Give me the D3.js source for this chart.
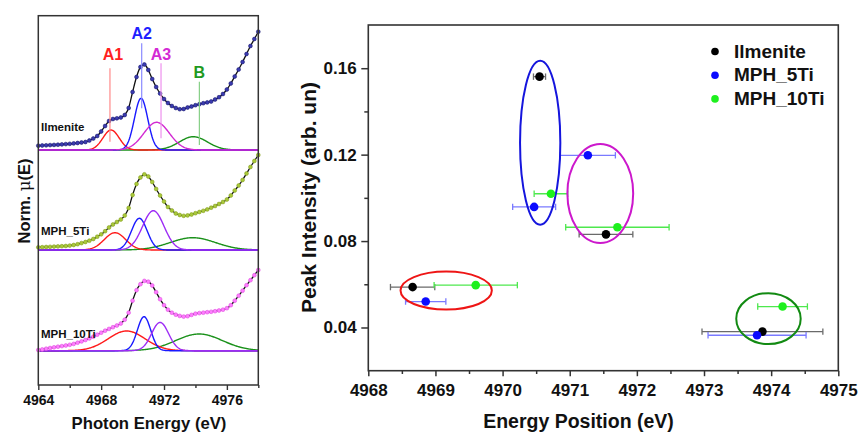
<!DOCTYPE html>
<html><head><meta charset="utf-8">
<script src="https://cdn.jsdelivr.net/npm/d3@7"></script>
<style>
html,body{margin:0;padding:0;background:#fff;}
svg{display:block;font-family:"Liberation Sans",Arial,sans-serif;}
</style></head><body>
<svg id="c" width="858" height="433"></svg>
<script>
// ---------- LEFT PANEL DATA (XANES spectra, arbitrary units) ----------
const photonEnergy = [4964.00,4964.25,4964.50,4964.75,4965.00,4965.25,4965.50,4965.75,
  4966.00,4966.25,4966.50,4966.75,4967.00,4967.25,4967.50,4967.75,
  4968.00,4968.25,4968.50,4968.75,4969.00,4969.25,4969.50,4969.75,
  4970.00,4970.25,4970.50,4970.75,4971.00,4971.25,4971.50,4971.75,
  4972.00,4972.25,4972.50,4972.75,4973.00,4973.25,4973.50,4973.75,
  4974.00,4974.25,4974.50,4974.75,4975.00,4975.25,4975.50,4975.75,
  4976.00,4976.25,4976.50,4976.75,4977.00,4977.25,4977.50,4977.75,4978.00];
const ilmeniteMu = [4.3,4.5,4.7,4.9,5.1,5.3,5.6,5.9,6.2,6.6,7.0,7.5,8.0,9.5,11.5,14.0,
  18.5,24.0,29.0,31.0,31.7,32.5,35.0,42.0,58.0,73.0,83.0,85.5,80.0,71.0,63.0,56.5,
  51.0,47.0,44.0,42.0,40.8,41.0,42.5,43.5,44.8,45.8,46.8,47.6,48.5,50.5,52.8,56.0,
  60.5,66.5,73.5,80.5,88.0,96.0,104.0,111.0,118.3];
const mph5Mu = [2.7,2.8,3.0,3.2,3.4,3.6,3.8,4.0,4.4,5.0,5.8,6.9,8.0,9.3,11.0,13.3,
  15.7,18.8,22.5,25.5,28.0,30.5,34.5,42.0,55.0,66.0,72.5,75.7,73.5,68.0,61.0,54.5,
  48.5,43.0,39.5,36.5,35.0,34.2,34.6,35.5,36.8,38.0,39.2,40.6,42.3,44.0,46.0,48.0,
  50.5,54.5,59.5,64.5,70.0,76.5,83.0,89.0,95.0];
const mph10Mu = [0.7,1.3,2.0,2.7,3.4,4.0,4.6,5.2,5.9,6.8,8.0,9.3,10.7,12.3,14.0,16.0,
  18.0,20.0,21.8,23.5,25.2,27.2,31.0,38.0,50.0,60.5,66.5,69.8,69.0,65.2,58.5,51.5,
  45.5,41.0,38.0,36.0,34.8,34.1,34.5,35.8,37.0,37.6,38.0,38.5,38.9,39.5,40.2,41.0,
  42.5,45.5,50.0,55.0,60.0,65.5,70.5,75.5,80.7];
const sampleNames = ["Ilmenite","MPH_5Ti","MPH_10Ti"];
const sampleOffsets = [235, 135, 34.3];
const peakNames = ["A1","A2","A3","B"];
// Gaussian fit components: centre (eV), height, FWHM (eV)
const ilmeniteFitCentre = [4968.63, 4970.54, 4971.53, 4973.87];
const ilmeniteFitHeight = [20.0, 51.7, 27.7, 13.3];
const ilmeniteFitFwhm   = [1.21, 1.00, 1.91, 2.10];
const mph5FitCentre = [4968.88, 4970.43, 4971.32, 4973.83];
const mph5FitHeight = [17.3, 31.7, 39.3, 12.3];
const mph5FitFwhm   = [1.60, 1.17, 1.60, 3.40];
const mph10FitCentre = [4969.62, 4970.73, 4971.75, 4974.23];
const mph10FitHeight = [19.7, 34.0, 28.3, 16.7];
const mph10FitFwhm   = [2.76, 1.00, 1.27, 3.50];
const peakMarkerEnergy = [4968.56, 4970.58, 4971.81, 4974.25];
const leftTicksMajor = [4964, 4968, 4972, 4976];
const leftTicksMinor = [4966, 4970, 4974, 4978];

// ---------- RIGHT PANEL DATA ----------
const seriesNames = ["Ilmenite","MPH_5Ti","MPH_10Ti"];
const ilmeniteE   = [4968.66, 4970.55, 4971.54, 4973.87];
const ilmeniteI   = [0.0587, 0.1561, 0.0831, 0.0381];
const ilmeniteErr = [0.33, 0.09, 0.40, 0.90];
const mph5E   = [4968.855, 4970.47, 4971.27, 4973.79];
const mph5I   = [0.0520, 0.0958, 0.1197, 0.0364];
const mph5Err = [0.30, 0.32, 0.41, 0.73];
const mph10E   = [4969.60, 4970.72, 4971.71, 4974.17];
const mph10I   = [0.0596, 0.1019, 0.0864, 0.0497];
const mph10Err = [0.62, 0.25, 0.77, 0.37];
// grouping ellipses: centre E, centre I, half-width (eV), half-height
const groupCx = [4969.16, 4970.56, 4971.455, 4973.96];
const groupCy = [0.0571, 0.1255, 0.1020, 0.0441];
const groupRx = [0.68, 0.30, 0.49, 0.48];
const groupRy = [0.0088, 0.0379, 0.0229, 0.0118];
const rightXTicks = [4968,4969,4970,4971,4972,4973,4974,4975];
const rightXMinor = [4968.5,4969.5,4970.5,4971.5,4972.5,4973.5,4974.5];
const rightYTicks = [0.04, 0.08, 0.12, 0.16];
const rightYMinor = [0.06, 0.10, 0.14];

// ---------- DRAW ----------
const svg = d3.select("#c");
const FONT = '"Liberation Sans",Arial,sans-serif';

// ===== Left panel =====
const xL = d3.scaleLinear().domain([4964, 4978]).range([38.3, 258.3]);
const yL = d3.scaleLinear().domain([0, 369.3]).range([385, 15.7]);
const L = svg.append("g");

const spectra = [ilmeniteMu, mph5Mu, mph10Mu];
const fits = [
  [ilmeniteFitCentre, ilmeniteFitHeight, ilmeniteFitFwhm],
  [mph5FitCentre, mph5FitHeight, mph5FitFwhm],
  [mph10FitCentre, mph10FitHeight, mph10FitFwhm]
];
const compColors = [
  ["#ff1a1a", "#1a1aff", "#d22ad2", "#1a911a"],
  ["#ff1a1a", "#1a1aff", "#9d2cf5", "#1a911a"],
  ["#ff1a1a", "#1a1aff", "#9d2cf5", "#1a911a"]
];
const dotFill = ["#3b3bb0", "#a9c93a", "#ff7cff"];
const dotStroke = ["#1a1a70", "#86a020", "#e050e0"];
const fineE = d3.range(4964, 4978.0001, 0.04);
const gauss = (E, c, h, w) => h * Math.exp(-4 * Math.LN2 * (E - c) * (E - c) / (w * w));

spectra.forEach((mu, s) => {
  const off = sampleOffsets[s];
  const [cs, hs, ws] = fits[s];
  // component order: B, A1, A2, A3 (A3 on top of baseline)
  [3, 0, 1, 2].forEach(k => {
    const line = d3.line()
      .x(e => xL(e))
      .y(e => yL(off + gauss(e, cs[k], hs[k], ws[k])));
    L.append("path").attr("d", line(fineE))
      .attr("fill", "none").attr("stroke", compColors[s][k]).attr("stroke-width", 1.4);
  });
  const pts = photonEnergy.map((e, i) => [e, mu[i]]);
  const ln = d3.line().x(d => xL(d[0])).y(d => yL(off + d[1])).curve(d3.curveMonotoneX);
  L.append("path").attr("d", ln(pts)).attr("fill", "none")
    .attr("stroke", "#111").attr("stroke-width", 1.3);
  L.append("g").selectAll("circle").data(pts).join("circle")
    .attr("cx", d => xL(d[0])).attr("cy", d => yL(off + d[1])).attr("r", 1.9)
    .attr("fill", dotFill[s]).attr("stroke", dotStroke[s]).attr("stroke-width", 0.6);
});

// peak annotation lines & labels (Ilmenite)
const markerLineColor = ["#ff8a8a", "#8a8aff", "#ee90ee", "#86cf86"];
const markerLabelColor = ["#ff1f1f", "#1f1fff", "#d42ad4", "#1f9a1f"];
const markerTop = [68.3, 43.3, 63.3, 81.7];
const markerBottom = [141.7, 108.3, 138.3, 145];
const labelBase = [60, 39.3, 60, 78.3];
peakNames.forEach((p, k) => {
  const x = xL(peakMarkerEnergy[k]);
  L.append("line").attr("x1", x).attr("x2", x).attr("y1", markerTop[k]).attr("y2", markerBottom[k])
    .attr("stroke", markerLineColor[k]).attr("stroke-width", 1.2);
  L.append("text").attr("x", x + (k === 0 ? 3 : 0)).attr("y", labelBase[k])
    .attr("text-anchor", "middle").attr("font-size", 16).attr("font-weight", "bold")
    .attr("fill", markerLabelColor[k]).text(p);
});

// sample labels
const sampleLabelY = [130.5, 235, 337.5];
sampleNames.forEach((n, s) => {
  L.append("text").attr("x", 41).attr("y", sampleLabelY[s])
    .attr("font-size", 11.5).attr("font-weight", "bold").attr("fill", "#111").text(n);
});

// left frame
L.append("rect").attr("x", 38.3).attr("y", 15.7).attr("width", 220).attr("height", 369.3)
  .attr("fill", "none").attr("stroke", "#333").attr("stroke-width", 1.5);

const axL = L.append("g").attr("transform", "translate(0,385)")
  .call(d3.axisBottom(xL).tickValues(leftTicksMajor).tickSize(5).tickFormat(d3.format("d")));
axL.select(".domain").remove();
axL.selectAll("line").attr("stroke", "#333").attr("stroke-width", 1.4);
axL.selectAll("text").attr("y", 10).attr("font-size", 14).attr("font-weight", "bold")
  .attr("font-family", FONT).attr("fill", "#111");
const axLm = L.append("g").attr("transform", "translate(0,385)")
  .call(d3.axisBottom(xL).tickValues(leftTicksMinor).tickSize(3).tickFormat(""));
axLm.select(".domain").remove();
axLm.selectAll("line").attr("stroke", "#333").attr("stroke-width", 1.4);

L.append("text").attr("x", 149).attr("y", 429).attr("text-anchor", "middle")
  .attr("font-size", 16.7).attr("font-weight", "bold").attr("fill", "#111").text("Photon Energy (eV)");
const yt = L.append("text").attr("transform", "translate(29.5,201) rotate(-90)")
  .attr("text-anchor", "middle").attr("font-size", 16.5).attr("font-weight", "bold").attr("fill", "#111");
yt.append("tspan").text("Norm. ");
yt.append("tspan").attr("font-weight", "normal").attr("font-family", "DejaVu Serif, serif").text("\u03bc");
yt.append("tspan").text("(E)");

// ===== Right panel =====
const xR = d3.scaleLinear().domain([4968, 4975]).range([368.3, 838.3]);
const yR = d3.scaleLinear().domain([0.02, 0.18]).range([370.7, 25]);
const R = svg.append("g");

const series = [
  {E: ilmeniteE, I: ilmeniteI, err: ilmeniteErr, color: "#000000", errColor: "#6a6a6a"},
  {E: mph5E, I: mph5I, err: mph5Err, color: "#0a0aff", errColor: "#7a7aff"},
  {E: mph10E, I: mph10I, err: mph10Err, color: "#1ef01e", errColor: "#4ee84e"}
];

// error bars
series.forEach(s => {
  const g = R.append("g").attr("stroke", s.errColor).attr("stroke-width", 1.3);
  s.E.forEach((e, i) => {
    const y = yR(s.I[i]), x0 = xR(e - s.err[i]), x1 = xR(e + s.err[i]);
    g.append("line").attr("x1", x0).attr("x2", x1).attr("y1", y).attr("y2", y);
    g.append("line").attr("x1", x0).attr("x2", x0).attr("y1", y - 3.2).attr("y2", y + 3.2);
    g.append("line").attr("x1", x1).attr("x2", x1).attr("y1", y - 3.2).attr("y2", y + 3.2);
  });
});

// ellipses
const ellColors = ["#ee1515", "#1515dd", "#cc18cc", "#128a12"];
groupCx.forEach((cx, k) => {
  R.append("ellipse")
    .attr("cx", xR(cx)).attr("cy", yR(groupCy[k]))
    .attr("rx", xR(cx + groupRx[k]) - xR(cx))
    .attr("ry", yR(groupCy[k] - groupRy[k]) - yR(groupCy[k]))
    .attr("fill", "none").attr("stroke", ellColors[k]).attr("stroke-width", 2);
});

// points
series.forEach(s => {
  R.append("g").selectAll("circle").data(s.E.map((e, i) => [e, s.I[i]])).join("circle")
    .attr("cx", d => xR(d[0])).attr("cy", d => yR(d[1])).attr("r", 4.3).attr("fill", s.color);
});

// frame
R.append("rect").attr("x", 368.3).attr("y", 25).attr("width", 470).attr("height", 345.7)
  .attr("fill", "none").attr("stroke", "#333").attr("stroke-width", 1.6);

const axRx = R.append("g").attr("transform", "translate(0,370.7)")
  .call(d3.axisBottom(xR).tickValues(rightXTicks).tickSize(5.5).tickFormat(d3.format("d")));
axRx.select(".domain").remove();
axRx.selectAll("line").attr("stroke", "#333").attr("stroke-width", 1.5);
axRx.selectAll("text").attr("y", 13.5).attr("font-size", 17).attr("font-weight", "bold")
  .attr("font-family", FONT).attr("fill", "#111");
const axRxm = R.append("g").attr("transform", "translate(0,370.7)")
  .call(d3.axisBottom(xR).tickValues(rightXMinor).tickSize(3.3).tickFormat(""));
axRxm.select(".domain").remove();
axRxm.selectAll("line").attr("stroke", "#333").attr("stroke-width", 1.5);

const axRy = R.append("g").attr("transform", "translate(368.3,0)")
  .call(d3.axisLeft(yR).tickValues(rightYTicks).tickSize(7).tickFormat(d3.format(".2f")));
axRy.select(".domain").remove();
axRy.selectAll("line").attr("stroke", "#333").attr("stroke-width", 1.5);
axRy.selectAll("text").attr("x", -11.6).attr("font-size", 17).attr("font-weight", "bold")
  .attr("font-family", FONT).attr("fill", "#111");
const axRym = R.append("g").attr("transform", "translate(368.3,0)")
  .call(d3.axisLeft(yR).tickValues(rightYMinor).tickSize(4).tickFormat(""));
axRym.select(".domain").remove();
axRym.selectAll("line").attr("stroke", "#333").attr("stroke-width", 1.5);

R.append("text").attr("x", 578.5).attr("y", 428.3).attr("text-anchor", "middle")
  .attr("font-size", 19.5).attr("font-weight", "bold").attr("fill", "#111").text("Energy Position (eV)");
R.append("text").attr("transform", "translate(316,197.5) rotate(-90)").attr("text-anchor", "middle")
  .attr("font-size", 21).attr("font-weight", "bold").attr("fill", "#111").text("Peak Intensity (arb. un)");

// legend
const legY = [57.7, 81.4, 105.1];
seriesNames.forEach((n, i) => {
  R.append("circle").attr("cx", 715).attr("cy", legY[i] - 6.2).attr("r", 3.8).attr("fill", series[i].color);
  R.append("text").attr("x", 734).attr("y", legY[i]).attr("font-size", 19).attr("font-weight", "bold")
    .attr("fill", "#111").text(n);
});
</script>
</body></html>
